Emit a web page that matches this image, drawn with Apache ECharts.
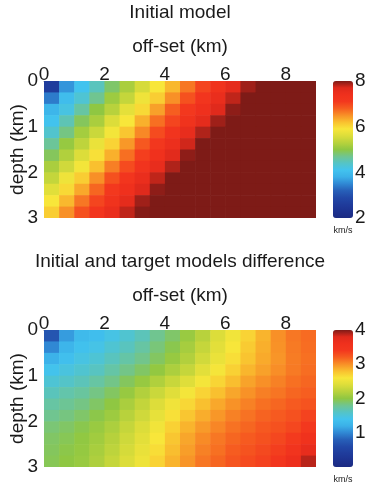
<!DOCTYPE html>
<html>
<head>
<meta charset="utf-8">
<title>Initial model</title>
<script src="https://cdn.jsdelivr.net/npm/echarts@6/dist/echarts.min.js"></script>
<style>
html, body { margin: 0; padding: 0; background: #fff; }
#chart { width: 372px; height: 490px; }
</style>
</head>
<body>
<div id="chart"></div>
<script>
// cell centres of the gridded models (km)
var offsetKm = [0.25, 0.75, 1.25, 1.75, 2.25, 2.75, 3.25, 3.75, 4.25, 4.75, 5.25, 5.75, 6.25, 6.75, 7.25, 7.75, 8.25, 8.75];
var depthKm = [0.125, 0.375, 0.625, 0.875, 1.125, 1.375, 1.625, 1.875, 2.125, 2.375, 2.625, 2.875];

// initial velocity model (km/s), one row per depth
var initialModel = [
    [2.6, 3.6, 4.1, 4.45, 4.85, 5.2, 5.55, 5.9, 6.25, 6.65, 7.0, 7.3, 7.6, 7.9, 8, 8, 8, 8],
    [3.4, 4.0, 4.3, 4.7, 5.1, 5.4, 5.8, 6.1, 6.5, 6.9, 7.2, 7.5, 7.8, 8, 8, 8, 8, 8],
    [3.9, 4.2, 4.6, 5.0, 5.3, 5.7, 6.0, 6.4, 6.8, 7.1, 7.4, 7.7, 7.95, 8, 8, 8, 8, 8],
    [4.1, 4.5, 4.9, 5.2, 5.6, 5.9, 6.3, 6.7, 7.0, 7.3, 7.6, 7.9, 8, 8, 8, 8, 8, 8],
    [4.35, 4.75, 5.15, 5.45, 5.85, 6.15, 6.55, 6.95, 7.25, 7.55, 7.85, 8, 8, 8, 8, 8, 8, 8],
    [4.65, 5.05, 5.35, 5.75, 6.05, 6.45, 6.85, 7.15, 7.45, 7.75, 8, 8, 8, 8, 8, 8, 8, 8],
    [4.9, 5.25, 5.6, 5.95, 6.3, 6.7, 7.05, 7.35, 7.65, 7.95, 8, 8, 8, 8, 8, 8, 8, 8],
    [5.2, 5.5, 5.85, 6.2, 6.6, 6.95, 7.25, 7.55, 7.85, 8, 8, 8, 8, 8, 8, 8, 8, 8],
    [5.4, 5.8, 6.1, 6.5, 6.9, 7.2, 7.5, 7.8, 8, 8, 8, 8, 8, 8, 8, 8, 8, 8],
    [5.65, 6.0, 6.35, 6.75, 7.1, 7.4, 7.7, 7.95, 8, 8, 8, 8, 8, 8, 8, 8, 8, 8],
    [5.9, 6.25, 6.65, 7.0, 7.3, 7.6, 7.9, 8, 8, 8, 8, 8, 8, 8, 8, 8, 8, 8],
    [6.1, 6.5, 6.9, 7.2, 7.5, 7.8, 7.98, 8, 8, 8, 8, 8, 8, 8, 8, 8, 8, 8]
];

// initial minus target model (km/s)
var modelDiff = [
    [0.7, 1.1, 1.3, 1.35, 1.45, 1.55, 1.65, 1.8, 1.9, 2.05, 2.2, 2.4, 2.55, 2.7, 2.85, 3.0, 3.1, 3.15],
    [1.0, 1.25, 1.38, 1.44, 1.54, 1.63, 1.73, 1.86, 1.97, 2.11, 2.27, 2.45, 2.59, 2.74, 2.87, 2.99, 3.09, 3.14],
    [1.22, 1.36, 1.46, 1.53, 1.63, 1.72, 1.81, 1.92, 2.04, 2.17, 2.34, 2.5, 2.64, 2.78, 2.89, 2.98, 3.08, 3.13],
    [1.41, 1.48, 1.55, 1.62, 1.72, 1.82, 1.91, 2.02, 2.14, 2.27, 2.44, 2.58, 2.71, 2.84, 2.93, 3.01, 3.09, 3.14],
    [1.53, 1.59, 1.65, 1.73, 1.82, 1.93, 2.04, 2.16, 2.29, 2.42, 2.57, 2.69, 2.81, 2.92, 3.0, 3.06, 3.13, 3.17],
    [1.64, 1.7, 1.75, 1.83, 1.92, 2.04, 2.17, 2.3, 2.43, 2.57, 2.7, 2.8, 2.91, 2.99, 3.07, 3.11, 3.17, 3.2],
    [1.73, 1.78, 1.83, 1.91, 2.0, 2.13, 2.26, 2.41, 2.54, 2.68, 2.8, 2.9, 2.99, 3.06, 3.13, 3.17, 3.22, 3.26],
    [1.8, 1.84, 1.9, 1.98, 2.07, 2.2, 2.33, 2.48, 2.63, 2.77, 2.88, 2.97, 3.06, 3.12, 3.18, 3.22, 3.27, 3.34],
    [1.87, 1.91, 1.97, 2.05, 2.14, 2.27, 2.4, 2.55, 2.71, 2.85, 2.96, 3.04, 3.12, 3.17, 3.23, 3.27, 3.32, 3.41],
    [1.91, 1.95, 2.01, 2.09, 2.19, 2.32, 2.45, 2.6, 2.77, 2.91, 3.02, 3.1, 3.17, 3.22, 3.27, 3.32, 3.39, 3.55],
    [1.93, 1.98, 2.03, 2.12, 2.23, 2.36, 2.49, 2.65, 2.81, 2.94, 3.06, 3.13, 3.21, 3.26, 3.31, 3.37, 3.5, 3.7],
    [1.95, 2.0, 2.05, 2.15, 2.27, 2.4, 2.53, 2.7, 2.85, 2.98, 3.1, 3.17, 3.25, 3.3, 3.35, 3.45, 3.62, 3.88]
];

var jetColors = ['#1b2a82', '#1d3290', '#1f3c9c', '#2249a8', '#2760b8', '#3088d4', '#3bb0e8',
    '#42c3ee', '#55c4c6', '#70c590', '#8fc742', '#b8d23c', '#dcdd3a', '#f8e63a', '#f9c02f',
    '#f89027', '#f65e20', '#f3381e', '#ef301d', '#e02a1c', '#7e1b17'];
var textColor = '#1a1a1a';

function toCells(grid) {
    var out = [];
    grid.forEach(function (row, i) {
        row.forEach(function (v, j) {
            out.push([offsetKm[j], depthKm[i], v]);
        });
    });
    return out;
}

var halfW = (offsetKm[1] - offsetKm[0]) / 2;
var halfH = (depthKm[1] - depthKm[0]) / 2;

function renderCell(params, api) {
    var x = api.value(0), z = api.value(1);
    var a = api.coord([x - halfW, z - halfH]);
    var b = api.coord([x + halfW, z + halfH]);
    return {
        type: 'rect',
        shape: { x: a[0], y: a[1], width: b[0] - a[0] + 0.6, height: b[1] - a[1] + 0.6 },
        style: { fill: api.visual('color') }
    };
}

function offsetAxis(gi) {
    return {
        gridIndex: gi, type: 'value', position: 'top', min: 0, max: 9, interval: 2,
        name: 'off-set (km)', nameLocation: 'middle', nameGap: 25, nameMoveOverlap: false,
        nameTextStyle: { fontSize: 19, color: textColor },
        axisLine: { show: true, lineStyle: { type: 'dotted', color: '#888', width: 1 } },
        axisTick: { show: false }, splitLine: { show: false },
        axisLabel: { fontSize: 19, color: textColor, margin: -3, showMaxLabel: false }
    };
}
function depthAxis(gi) {
    return {
        gridIndex: gi, type: 'value', inverse: true, min: 0, max: 3, interval: 1,
        name: 'depth (km)', nameLocation: 'middle', nameGap: 17, nameMoveOverlap: false,
        nameTextStyle: { fontSize: 19, color: textColor },
        axisLine: { show: false }, axisTick: { show: false }, splitLine: { show: false },
        axisLabel: { fontSize: 19, color: textColor, margin: 6 }
    };
}
function barAxis(gi, lo, hi, step, showLo) {
    return {
        gridIndex: gi, type: 'value', position: 'right', min: lo, max: hi, interval: step,
        axisLine: { show: false }, axisTick: { show: false }, splitLine: { show: false },
        axisLabel: { fontSize: 19, color: textColor, margin: 2, padding: [8, 0, 0, 0], showMinLabel: showLo }
    };
}
function caption(txt, x, y, size) {
    return {
        type: 'text', x: x, y: y,
        style: { text: txt, fill: textColor, font: size + 'px "Liberation Sans"',
            textAlign: 'center', textVerticalAlign: 'middle', align: 'center', verticalAlign: 'middle' }
    };
}

var chart = echarts.init(document.getElementById('chart'));
chart.setOption({
    animation: false,
    backgroundColor: '#fff',
    textStyle: { fontFamily: 'Liberation Sans' },
    grid: [
        { left: 44, top: 81, width: 272, height: 137, outerBoundsMode: 'none', containLabel: false },
        { left: 44, top: 330, width: 272, height: 137, outerBoundsMode: 'none', containLabel: false },
        { left: 333, top: 81, width: 20, height: 137, outerBoundsMode: 'none', containLabel: false },
        { left: 333, top: 330, width: 20, height: 137, outerBoundsMode: 'none', containLabel: false }
    ],
    xAxis: [offsetAxis(0), offsetAxis(1),
        { gridIndex: 2, type: 'value', show: false },
        { gridIndex: 3, type: 'value', show: false }],
    yAxis: [depthAxis(0), depthAxis(1), barAxis(2, 2, 8, 2, true), barAxis(3, 0, 4, 1, false)],
    visualMap: [
        { type: 'continuous', seriesIndex: 0, dimension: 2, min: 2, max: 8, calculable: false,
          hoverLink: false, itemWidth: 20, itemHeight: 137, left: 333, top: 81, padding: 0,
          inRange: { color: jetColors } },
        { type: 'continuous', seriesIndex: 1, dimension: 2, min: 0, max: 4, calculable: false,
          hoverLink: false, itemWidth: 20, itemHeight: 137, left: 333, top: 330, padding: 0,
          inRange: { color: jetColors } }
    ],
    graphic: [
        caption('Initial model', 180, 13, 19),
        caption('Initial and target models difference', 180, 262, 19),
        caption('km/s', 343, 231, 9),
        caption('km/s', 343, 480, 9)
    ],
    series: [
        { type: 'custom', xAxisIndex: 0, yAxisIndex: 0, clip: true, renderItem: renderCell,
          encode: { x: 0, y: 1 }, data: toCells(initialModel) },
        { type: 'custom', xAxisIndex: 1, yAxisIndex: 1, clip: true, renderItem: renderCell,
          encode: { x: 0, y: 1 }, data: toCells(modelDiff) }
    ]
});
</script>
</body>
</html>
